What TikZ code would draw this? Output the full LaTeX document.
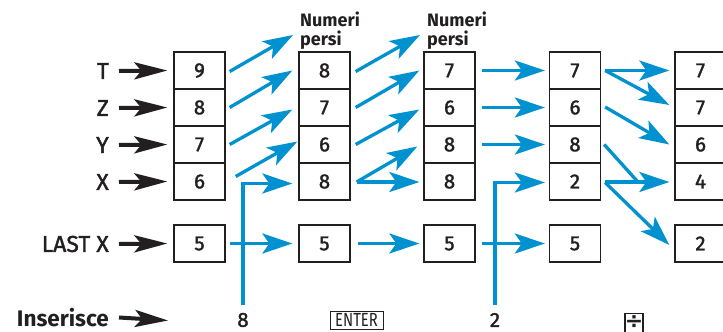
\documentclass[tikz,border=0pt]{standalone}
\usepackage{fontspec}
\setmainfont{Fira Sans}
\newfontfamily\medfont{Fira Sans}[FakeBold=1.6]
\newfontfamily\symfont{DejaVu Sans}
\usetikzlibrary{arrows.meta}
\definecolor{hpblue}{RGB}{0,146,208}
\definecolor{ink}{RGB}{35,31,32}
\begin{document}
\begin{tikzpicture}[x=1pt,y=-1pt,
  reg/.style={draw=ink, line width=1.3pt, minimum width=51pt, minimum height=37pt, inner sep=0pt,
    font=\medfont\fontsize{20.5}{20.5}\selectfont, text=ink},
  lbl/.style={font=\medfont\fontsize{23}{23}\selectfont, text=ink, anchor=east, inner sep=0pt},
  inp/.style={font=\medfont\fontsize{20.5}{20.5}\selectfont, text=ink, inner sep=0pt},
  lost/.style={font=\bfseries\fontsize{18}{18.5}\selectfont, text=ink, anchor=north west, inner sep=0pt, align=left},
  blk/.style={line width=4pt, draw=ink, -{Stealth[length=33pt,width=17pt,inset=7pt]}},
  blu/.style={line width=3.3pt, draw=hpblue, -{Stealth[length=30pt,width=20pt,inset=7pt]}},
  bline/.style={line width=3.3pt, draw=hpblue},
  key/.style={draw=ink, line width=1pt, inner sep=0pt, minimum width=53pt, minimum height=18pt,
    font=\fontsize{19}{19}\selectfont, text=ink}
  ]
\useasboundingbox (0,0) rectangle (723,332);
\clip (0,0) rectangle (723,332);

% registers
\foreach \i/\x/\a/\b/\cc/\d/\l in {1/199.5/9/8/7/6/5, 2/324.5/8/7/6/8/5, 3/449.5/7/6/8/8/5, 4/575/7/6/8/2/5, 5/700.5/7/7/6/4/2}{
  \node[reg] (c\i a) at (\x,70.5) {\a};
  \node[reg] (c\i b) at (\x,107.5) {\b};
  \node[reg] (c\i c) at (\x,144.5) {\cc};
  \node[reg] (c\i d) at (\x,181.5) {\d};
  \node[reg] (c\i l) at (\x,243.5) {\l};
}

% labels
\node[lbl] (lT) at (109,71) {T};
\node[lbl] (lZ) at (109,108) {Z};
\node[lbl] (lY) at (109,145) {Y};
\node[lbl] (lX) at (109,182) {X};
\node[lbl] (lL) at (109,244) {LAST X};
\node[lbl, font=\bfseries\fontsize{22.5}{22.5}\selectfont] (lIn) at (109,317.5) {Inserisce};
\foreach \n/\t in {lT/c1a, lZ/c1b, lY/c1c, lX/c1d, lL/c1l}{
  \draw[blk] ([xshift=10pt]\n.east) -- ([xshift=-6pt]\t.west);
}
\coordinate (inend) at (168,320.5);
\draw[blk] ([xshift=10pt]lIn.east) -- (inend);

% lost labels
\node[lost] (np1) at (300,12) {Numeri\\persi};
\node[lost] (np2) at (427,12) {Numeri\\persi};
\coordinate (lost1) at (293,35);
\coordinate (lost2) at (420,35);

% inputs
\node[inp] (in8) at (243,320) {8};
\node[key] (ent) at (356.5,320) {\scalebox{0.78}[1]{ENTER}};
\node[inp] (in2) at (495,320) {2};
\node[draw=ink, line width=1.6pt, minimum width=18pt, minimum height=30pt, inner sep=0pt, anchor=north] (div) at (634,312.5) {};
\node[inner sep=0pt, text=ink, font=\symfont\bfseries\fontsize{22}{22}\selectfont] (divs) at (634,322) {÷};

% col1 -> col2
\draw[blu] ([xshift=4pt,yshift=-1pt]c1a.east) -- (lost1);
\draw[blu] ([xshift=4pt]c1b.east) -- ([xshift=-6pt]c2a.west);
\draw[blu] ([xshift=4pt]c1c.east) -- ([xshift=-6pt,yshift=-2pt]c2b.west);
\draw[blu] ([xshift=10pt,yshift=5pt]c1d.east) -- ([xshift=-1pt,yshift=3pt]c2c.west);
\draw[blu] ([yshift=8pt]in8.north) |- ([xshift=-6pt,yshift=-2pt]c2d.west);
\draw[blu] ([xshift=4pt]c1l.east) -- ([xshift=-6pt]c2l.west);

% col2 -> col3
\draw[blu] ([xshift=5pt,yshift=-1pt]c2a.east) -- (lost2);
\draw[blu] ([xshift=5pt]c2b.east) -- ([xshift=-4pt]c3a.west);
\draw[blu] ([xshift=5pt]c2c.east) -- ([xshift=-4pt,yshift=-2pt]c3b.west);
\draw[blu] ([xshift=6pt,yshift=-0.5pt]c2d.east) -- ([xshift=-6pt,yshift=-2pt]c3c.west);
\draw[blu] ([xshift=6pt,yshift=-0.5pt]c2d.east) -- ([xshift=-4pt,yshift=-0.5pt]c3d.west);
\draw[blu] ([xshift=7pt]c2l.east) -- ([xshift=-4pt]c3l.west);

% col3 -> col4
\draw[blu] ([xshift=6pt]c3a.east) -- ([xshift=-4pt]c4a.west);
\draw[blu] ([xshift=6pt]c3b.east) -- ([xshift=-4pt]c4b.west);
\draw[blu] ([xshift=6pt]c3c.east) -- ([xshift=-4pt]c4c.west);
\draw[blu] ([yshift=8pt]in2.north) |- ([xshift=-4pt,yshift=-1pt]c4d.west);
\draw[blu] ([xshift=6pt]c3l.east) -- ([xshift=-4pt]c4l.west);

% col4 -> col5
\draw[blu] ([xshift=4pt]c4a.east) -- ([xshift=-5pt]c5a.west);
\draw[blu] ([xshift=4pt]c4a.east) -- ([xshift=-5pt,yshift=2.5pt]c5b.west);
\draw[blu] ([xshift=4pt,yshift=0.5pt]c4b.east) -- ([xshift=-5pt]c5c.west);
\coordinate (join) at (638,182);
\draw[bline] ([xshift=3pt]c4c.east) -- (join);
\draw[blu] ([xshift=4pt,yshift=-0.5pt]c4d.east) -- ([xshift=-5pt,yshift=-0.5pt]c5d.west);
\draw[blu] ([xshift=4pt,yshift=-1pt]c4d.east) -- ([xshift=-5pt,yshift=-1.5pt]c5l.west);
\end{tikzpicture}
\end{document}
